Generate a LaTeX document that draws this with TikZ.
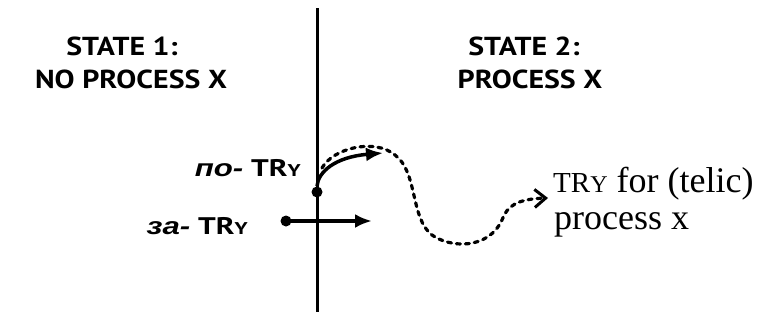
\documentclass[tikz,border=0pt]{standalone}
\usepackage{fontspec}
\usepackage{graphicx}
\setmainfont{Liberation Serif}
\newfontfamily\headfont{PT Sans}
\newfontfamily\cyrfont{Liberation Sans}
\usetikzlibrary{arrows.meta}
\tikzset{
  head/.style={font=\headfont\bfseries\fontsize{26}{30}\selectfont, inner sep=0pt},
  lab/.style={font=\headfont\bfseries\fontsize{24}{28}\selectfont, inner sep=0pt},
  rtext/.style={font=\fontsize{36}{40}\selectfont, inner sep=0pt},
  axis/.style={line width=3pt},
  solidarrow/.style={line width=3.5pt, -{Latex[length=17pt,width=14pt]}},
  dotarrow/.style={line width=3.2pt, dash pattern=on 4pt off 5pt, line cap=round,
    -{Straight Barb[length=11pt,width=18pt,line width=3pt]}},
  blob/.style={circle, fill=black, inner sep=0pt, minimum size=11pt}
}
\newcommand{\trylab}{TR{\fontsize{17}{18}\selectfont Y}}
\newcommand{\tryr}{{\fontsize{29}{30}\selectfont TR}{\fontsize{24}{30}\selectfont Y}}
\newcommand{\wide}[1]{\scalebox{1.15}[1]{#1}}
\begin{document}
\begin{tikzpicture}[x=1pt,y=-1pt]
\useasboundingbox (0,0) rectangle (764,322);
% axis
\coordinate (top) at (317,8);
\coordinate (bot) at (317,312);
\draw[axis] (top) -- (bot);
% headings
\node[head] (s1) at (122,46) {\wide{STATE 1:}};
\node[head] (s1b) at (131,79) {\wide{NO PROCESS X}};
\node[head] (s2) at (524,46) {\wide{STATE 2:}};
\node[head] (s2b) at (530,79) {\wide{PROCESS X}};
% left labels
\node[lab, anchor=east] (po) at (301,168) {\scalebox{1.3}[1]{{\cyrfont\bfseries\itshape по-} \trylab}};
\node[lab, anchor=east] (za) at (248,226) {\scalebox{1.3}[1]{{\cyrfont\bfseries\itshape за-} \trylab}};
% po arrow
\node[blob] (pdot) at (317,192) {};
\coordinate (ptip) at (383,153);
\draw[solidarrow] (pdot.north) .. controls (318,172) and (335,157) .. (ptip);
% dotted curve
\coordinate (dstart) at (322,168);
\coordinate (dtip) at (548,198);
\draw[dotarrow] (dstart) .. controls (333,148) and (375,138) .. (395,155)
  .. controls (418,172) and (410,218) .. (432,235)
  .. controls (450,248) and (488,250) .. (502,220)
  .. controls (507,206) and (517,199) .. (dtip);
% za arrow
\node[blob] (zdot) at (286,221) {};
\coordinate (ztip) at (372,221);
\draw[solidarrow] (zdot.center) -- (ztip);
% right text
\node[rtext, anchor=base west] (t1) at (553,192) {\tryr\ for (telic)};
\node[rtext, anchor=base west] (t2) at (554,229) {process x};
\end{tikzpicture}
\end{document}
